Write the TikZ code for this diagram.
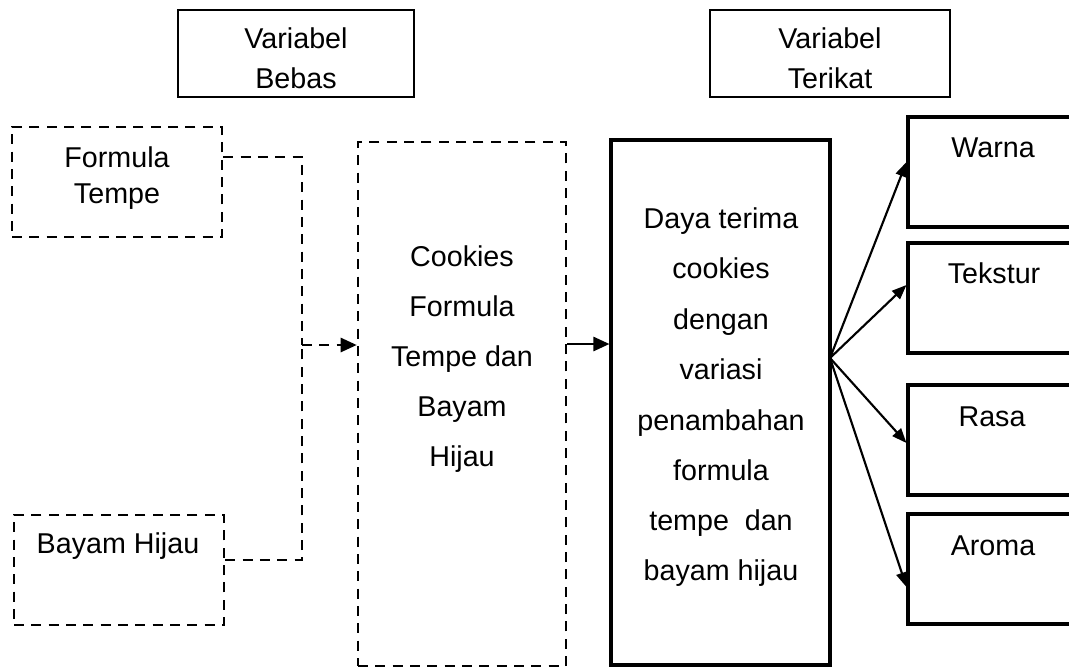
\documentclass[tikz,border=0pt]{standalone}
\usepackage{fontspec}
\setmainfont{Liberation Sans}
\usetikzlibrary{arrows.meta,calc}
\begin{document}
\begin{tikzpicture}[x=0.75pt,y=-0.75pt,
  every node/.style={font=\fontsize{21.5}{25}\selectfont, inner sep=0pt},
  boxthin/.style={draw, line width=1.3pt},
  boxthick/.style={draw, line width=2.3pt},
  dbox/.style={draw, line width=1.9pt, dash pattern=on 7.5pt off 5.5pt},
  dline/.style={line width=1.9pt, dash pattern=on 7.5pt off 5.5pt},
  bigtip/.style={-{Triangle[length=12pt,width=10.5pt]}},
  fantip/.style={line width=1.6pt, -{Triangle[length=11pt,width=8.5pt]}},
  txt/.style={anchor=base}]
\useasboundingbox (0,0) rectangle (1069,668);
\clip (0,0) rectangle (1069,668);
% top boxes
\node[boxthin, minimum width=177pt, minimum height=65.25pt] (vb) at (296,53.5) {};
\node[boxthin, minimum width=180pt, minimum height=65.25pt] (vt) at (830,53.5) {};
\node[txt] (vb1) at (296,48) {Variabel};
\node[txt] (vb2) at (296,88) {Bebas};
\node[txt] (vt1) at (830,48) {Variabel};
\node[txt] (vt2) at (830,88) {Terikat};
% left dashed boxes
\node[dbox, minimum width=157.5pt, minimum height=82.5pt] (ft) at (117,182) {};
\node[txt] (ft1) at (117,167) {Formula};
\node[txt] (ft2) at (117,203) {Tempe};
\node[dbox, minimum width=157.5pt, minimum height=82.5pt] (bh) at (119,570) {};
\node[txt] (bh1) at (118,553) {Bayam Hijau};
% cookies box
\node[dbox, minimum width=156pt, minimum height=393pt] (ck) at (462,404) {};
\node[txt] (ck1) at (462,266) {Cookies};
\node[txt] (ck2) at (462,316) {Formula};
\node[txt] (ck3) at (462,366) {Tempe dan};
\node[txt] (ck4) at (462,416) {Bayam};
\node[txt] (ck5) at (462,466) {Hijau};
% daya terima box
\node[boxthick, minimum width=164.25pt, minimum height=393.75pt] (dt) at (720.5,402.5) {};
\node[txt] (dt1) at (721,228) {Daya terima};
\node[txt] (dt2) at (721,278) {cookies};
\node[txt] (dt3) at (721,329) {dengan};
\node[txt] (dt4) at (721,379) {variasi};
\node[txt] (dt5) at (721,430) {penambahan};
\node[txt] (dt6) at (721,480) {formula};
\node[txt] (dt7) at (721,530) {tempe\ \ dan};
\node[txt] (dt8) at (721,580) {bayam hijau};
% right boxes
\node[boxthick, minimum width=129pt, minimum height=82.5pt] (wa) at (994,172) {};
\node[boxthick, minimum width=129pt, minimum height=82.5pt] (te) at (994,298) {};
\node[boxthick, minimum width=129pt, minimum height=82.5pt] (ra) at (994,440) {};
\node[boxthick, minimum width=129pt, minimum height=82.5pt] (ar) at (994,569) {};
\node[txt] (wa1) at (993,157) {Warna};
\node[txt] (te1) at (994,283) {Tekstur};
\node[txt] (ra1) at (992,426) {Rasa};
\node[txt] (ar1) at (993,555) {Aroma};
% connectors
\coordinate (j) at (302,345);
\draw[dline] (ft.east |- 0,157) -| (j);
\draw[dline] (bh.east |- 0,560) -| (j);
\draw[dline, bigtip] (j) -- (ck.west |- j);
\draw[line width=1.9pt, bigtip] (ck.east |- 0,344) -- (dt.west |- 0,344);
\coordinate (fan) at (830,358);
\draw[fantip] (fan) -- ($(wa.west)+(0,-10)$);
\draw[fantip] (fan) -- ($(te.west)+(0,-13)$);
\draw[fantip] (fan) -- ($(ra.west)+(0,3)$);
\draw[fantip] (fan) -- ($(ar.west)+(0,18)$);
\end{tikzpicture}
\end{document}
